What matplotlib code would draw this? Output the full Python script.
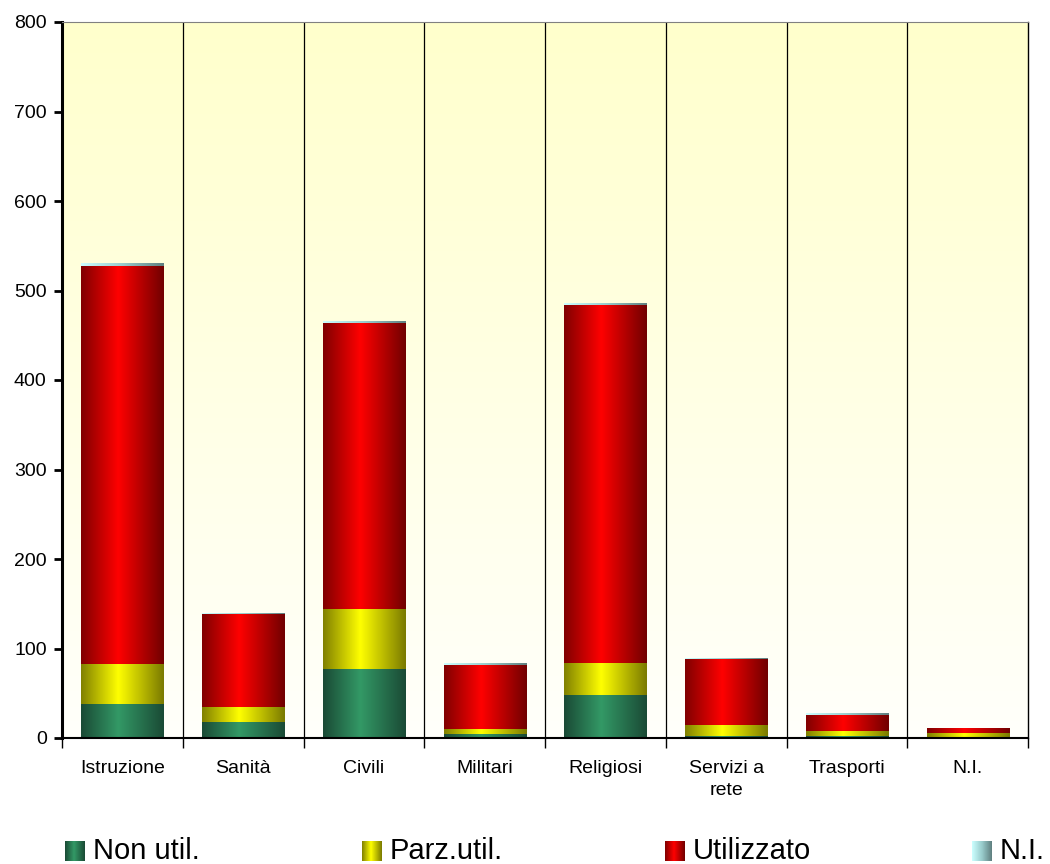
import numpy as np
import matplotlib

matplotlib.use("Agg")
import matplotlib.pyplot as plt
from matplotlib.colors import LinearSegmentedColormap

plt.rcParams["font.family"] = ["Liberation Sans", "DejaVu Sans"]

categories = ["Istruzione", "Sanità", "Civili", "Militari", "Religiosi",
              "Servizi a\nrete", "Trasporti", "N.I."]
series_names = ["Non util.", "Parz.util.", "Utilizzato", "N.I."]
non_util = [38, 18, 77, 5, 48, 2, 2, 1]
parz_util = [45, 17, 67, 5, 36, 12, 6, 4.5]
utilizzato = [444, 104, 320, 72, 400, 74, 18, 4.5]
n_i = [3, 0.5, 2, 2, 2, 0.5, 2, 0]
y_ticks = [0, 100, 200, 300, 400, 500, 600, 700, 800]

# shading: dark edge -> bright centre -> dark edge (Excel style)
def shade(dark, bright, dark2=None):
    dark2 = dark2 or dark
    return LinearSegmentedColormap.from_list(
        "s", [(0, dark), (0.45, bright), (1, dark2)])

cmaps = [
    shade("#1a4a35", "#339966", "#1a4a35"),
    shade("#808000", "#ffff00", "#7a7a00"),
    shade("#800000", "#ff0000", "#700000"),
    LinearSegmentedColormap.from_list("ni", ["#ccffff", "#99cccc", "#5f7f7f"]),
]
grad = np.linspace(0, 1, 256)[None, :]

fig = plt.figure(figsize=(10.5, 8.64), dpi=100)
ax = fig.add_axes([62 / 1050, 1 - 738 / 864, 966 / 1050, 716 / 864])

x = np.arange(len(categories))
width = 0.68

# background gradient
bg = LinearSegmentedColormap.from_list("bg", ["#ffffcc", "#fffffb"])
ax.imshow(np.linspace(0, 1, 256)[:, None], cmap=bg, aspect="auto",
          extent=[-0.5, len(categories) - 0.5, 0, 800], origin="upper", zorder=0)

bottoms = np.zeros(len(categories))
for vals, cm in zip([non_util, parz_util, utilizzato, n_i], cmaps):
    bars = ax.bar(x, vals, width, bottom=bottoms, color="none", zorder=2)
    for r in bars:
        if r.get_height() <= 0:
            continue
        x0, y0 = r.get_x(), r.get_y()
        ax.imshow(grad, cmap=cm, aspect="auto", interpolation="bilinear",
                  extent=[x0, x0 + r.get_width(), y0, y0 + r.get_height()],
                  zorder=2)
    bottoms += np.array(vals)

ax.vlines(np.arange(0.5, len(categories) - 0.5, 1), 0, 800, colors="black",
          lw=0.9, zorder=1)

ax.set_xlim(-0.5, len(categories) - 0.5)
ax.set_ylim(0, 800)
ax.set_yticks(y_ticks)
ax.tick_params(axis="y", labelsize=14, length=6, width=2, pad=5)
ax.set_xticks(np.arange(-0.5, len(categories), 1))
ax.set_xticklabels([])
ax.tick_params(axis="x", which="major", length=7, width=1)
ax.set_xticks(x, minor=True)
ax.set_xticklabels(categories, minor=True, fontsize=14, linespacing=1.35)
ax.tick_params(axis="x", which="minor", length=0, pad=16)

ax.spines["left"].set_linewidth(2.2)
ax.spines["bottom"].set_linewidth(1.5)
ax.spines["top"].set_linewidth(0.8)
ax.spines["top"].set_color("#808080")
ax.spines["right"].set_linewidth(1)

# legend drawn by hand with shaded squares
leg_x = [65, 362, 665, 972]
for lx, name, cm in zip(leg_x, series_names, cmaps):
    lax = fig.add_axes([lx / 1050, 3 / 864, 20 / 1050, 20 / 864])
    lax.imshow(grad, cmap=cm, aspect="auto")
    lax.axis("off")
    fig.text((lx + 28) / 1050, 5 / 864, name, fontsize=21, va="baseline",
             ha="left")

fig.savefig("out.png", dpi=100)
